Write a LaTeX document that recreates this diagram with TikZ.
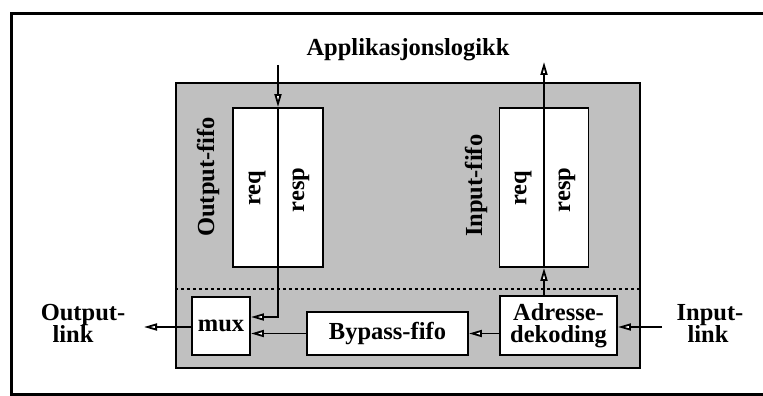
\documentclass[tikz,border=0pt]{standalone}
\usepackage{fontspec}
\setmainfont{Liberation Serif}
\usetikzlibrary{arrows.meta}
\definecolor{figgray}{HTML}{C0C0C0}
\tikzset{
  lbl/.style={font=\fontsize{24.5}{22}\selectfont\bfseries, inner sep=0pt},
  boxw/.style={draw, fill=white, line width=1.9pt, inner sep=0pt, font=\fontsize{24.5}{22}\selectfont\bfseries, align=center},
  conn/.style={line width=1.8pt, -{Triangle[length=13pt,width=7pt,fill=white]}},
  dotline/.style={line width=1.4pt, dash pattern=on 3pt off 3pt},
}
\begin{document}
\begin{tikzpicture}[x=1pt,y=-1pt]
\useasboundingbox (0,0) rectangle (763,396);
\clip (0,0) rectangle (763,396);
% outer frame
\draw[line width=3pt] (11,13.5) rectangle (800,394.5);
% grey module
\node[draw, fill=figgray, line width=2pt, minimum width=464pt, minimum height=285pt, inner sep=0pt] (mod) at (408,225.5) {};
\draw[dotline] (mod.west |- 0,289) -- (mod.east |- 0,289);
% fifos
\node[boxw, minimum width=90pt, minimum height=159pt] (ofifo) at (278,187.5) {};
\node[boxw, minimum width=89pt, minimum height=159pt] (ififo) at (544,187.5) {};
\node[lbl, rotate=90] (oreq) at (257,188) {req};
\node[lbl, rotate=90] (oresp) at (301,190) {resp};
\node[lbl, rotate=90] (ireq) at (523,188) {req};
\node[lbl, rotate=90] (iresp) at (567,190) {resp};
\node[lbl, rotate=90, anchor=base west] (olab) at (214,237) {Output-fifo};
\node[lbl, rotate=90, anchor=base west] (ilab) at (482,237) {Input-fifo};
% lower boxes
\node[boxw, minimum width=58pt, minimum height=58pt] (mux) at (221,326) {mux};
\node[boxw, minimum width=161pt, minimum height=43pt] (byp) at (387.5,333.5) {Bypass-fifo};
\node[boxw, minimum width=117pt, minimum height=59pt] (adr) at (558.5,325.5) {Adresse-\\dekoding};
% texts
\node[lbl, anchor=base] (app) at (408,56) {Applikasjonslogikk};
\node[lbl, anchor=base] (ol1) at (83,320) {Output-};
\node[lbl, anchor=base] (ol2) at (73,342) {link};
\node[lbl, anchor=base] (il1) at (710,320) {Input-};
\node[lbl, anchor=base] (il2) at (708,342) {link};
% coordinates
\coordinate (appin) at (278,65);
\coordinate (appout) at (544,62);
\coordinate (ocorner) at (278,317);
\coordinate (inl) at (662,327);
\coordinate (outl) at (144,327);
% connectors
\draw[conn] (appin) -- (ofifo.north);
\draw[conn] (ofifo.north) -- (ocorner) -- (ocorner -| mux.east);
\draw[conn] (adr.north -| ififo.south) -- (ififo.south);
\draw[conn] (ififo.south) -- (appout);
\draw[conn] (inl) -- (inl -| adr.east);
\draw[conn] (adr.west |- byp.east) -- (byp.east);
\draw[conn] (byp.west) -- (byp.west -| mux.east);
\draw[conn] (mux.west |- outl) -- (outl);
\end{tikzpicture}
\end{document}
